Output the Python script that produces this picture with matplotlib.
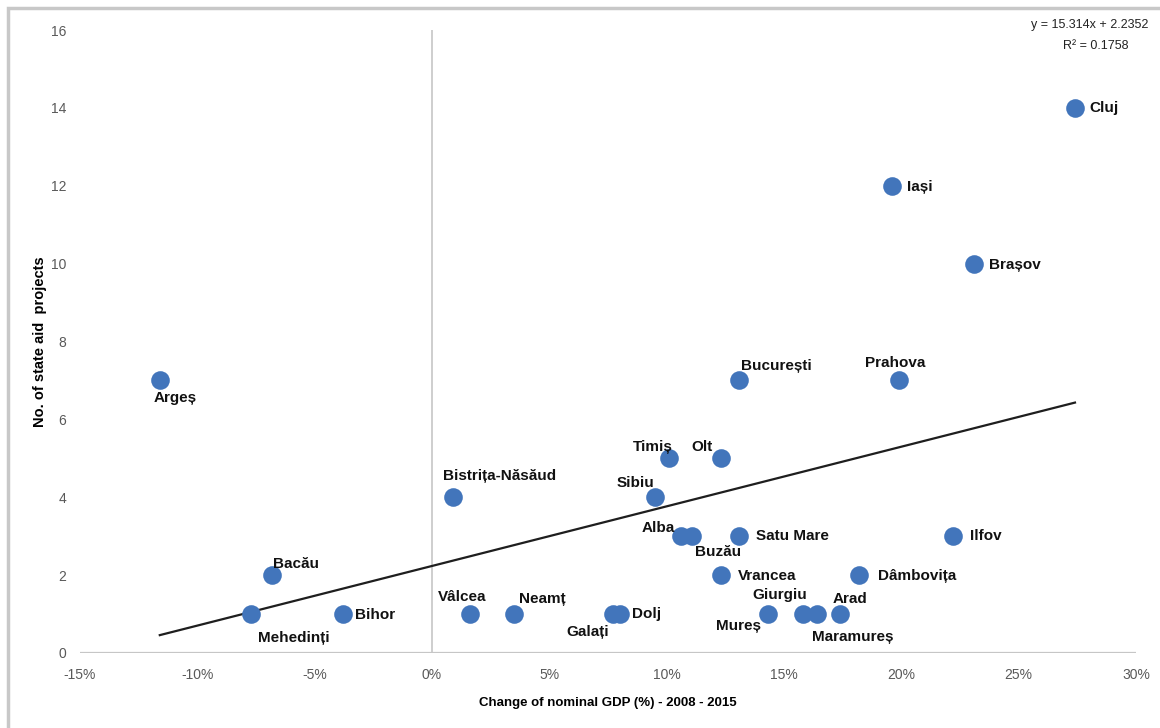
import numpy as np
import matplotlib.pyplot as plt
from matplotlib.patches import Rectangle
from matplotlib.ticker import FuncFormatter, MultipleLocator

# Counties: change of nominal GDP 2008-2015 vs. number of state aid projects
counties = ['Argeș', 'Bacău', 'Mehedinți', 'Bihor', 'Bistrița-Năsăud', 'Vâlcea',
            'Neamț', 'Galați', 'Dolj', 'Sibiu', 'Timiș', 'Olt', 'Alba', 'Buzău',
            'Satu Mare', 'Vrancea', 'București', 'Mureș', 'Giurgiu', 'Maramureș',
            'Arad', 'Dâmbovița', 'Prahova', 'Ilfov', 'Brașov', 'Iași', 'Cluj']
gdp_change = [-0.116, -0.068, -0.077, -0.038, 0.009, 0.016,
              0.035, 0.077, 0.080, 0.095, 0.101, 0.123, 0.106, 0.111,
              0.131, 0.123, 0.131, 0.143, 0.158, 0.164,
              0.174, 0.182, 0.199, 0.222, 0.231, 0.196, 0.274]
projects = [7, 2, 1, 1, 4, 1,
            1, 1, 1, 4, 5, 5, 3, 3,
            3, 2, 7, 1, 1, 1,
            1, 2, 7, 3, 10, 12, 14]

# linear trend reported by the regression
slope = 15.314
intercept = 2.2352
r_squared = 0.1758

# label placement (pixel offsets from the marker, x right / y down)
label_offsets = {
    'Argeș': (15, 18), 'Bacău': (24, -11), 'Mehedinți': (43, 24), 'Bihor': (32, 1),
    'Bistrița-Năsăud': (46, -21), 'Vâlcea': (-7, -17), 'Neamț': (28, -15),
    'Galați': (-25, 18), 'Dolj': (27, 0), 'Sibiu': (-19, -14), 'Timiș': (-16, -11),
    'Olt': (-19, -11), 'Alba': (-22, -8), 'Buzău': (26, 16), 'Satu Mare': (53, 0),
    'Vrancea': (47, 1), 'București': (37, -14), 'Mureș': (-29, 12),
    'Giurgiu': (-23, -19), 'Maramureș': (36, 23), 'Arad': (10, -15),
    'Dâmbovița': (58, 1), 'Prahova': (-4, -17), 'Ilfov': (33, 0),
    'Brașov': (41, 1), 'Iași': (28, 1), 'Cluj': (29, 0),
}

plt.rcParams['font.family'] = ['Liberation Sans', 'DejaVu Sans']

W, H = 1160, 728
fig = plt.figure(figsize=(W / 100, H / 100), dpi=100)
ax = fig.add_axes([80 / W, (H - 653) / H, (1136 - 80) / W, (653 - 30) / H])

# outer chart border
fig.patches.append(Rectangle((8 / W, -0.05), 1.2, (H - 8) / H + 0.05,
                             transform=fig.transFigure, fill=False,
                             edgecolor='#c8c8c8', linewidth=2.5))

ax.set_xlim(-0.15, 0.30)
ax.set_ylim(0, 16)
for s in ax.spines.values():
    s.set_visible(False)
ax.axhline(0, color='#c6c6c6', lw=1.6, zorder=1)
ax.axvline(0, color='#c6c6c6', lw=1.2, zorder=1)

ax.xaxis.set_major_locator(MultipleLocator(0.05))
ax.yaxis.set_major_locator(MultipleLocator(2))
ax.xaxis.set_major_formatter(FuncFormatter(lambda v, p: f'{v * 100:.0f}%'))
ax.tick_params(length=0, labelsize=10, labelcolor='#595959')
ax.tick_params(axis='x', pad=11)
ax.tick_params(axis='y', pad=10)

# trend line across the data range
xs = np.array([min(gdp_change), max(gdp_change)])
ax.plot(xs, slope * xs + intercept, color='#1e1e1e', lw=1.6, zorder=2)

ax.scatter(gdp_change, projects, s=180, color='#4275bb', zorder=3, linewidths=0)

for name, x, y in zip(counties, gdp_change, projects):
    dx, dy = label_offsets[name]
    ax.annotate(name, (x, y), xytext=(dx, -dy), textcoords='offset pixels',
                ha='center', va='center', fontsize=11, fontweight='bold',
                color='#111111', zorder=4)

fig.text(1090 / W, 1 - 25 / H, f'y = {slope}x + {intercept}', ha='center',
         va='center', fontsize=9, color='#222222')
fig.text(1096 / W, 1 - 46 / H, f'R² = {r_squared}', ha='center',
         va='center', fontsize=9, color='#222222')

fig.text(608 / W, 1 - 703 / H, 'Change of nominal GDP (%) - 2008 - 2015',
         ha='center', va='center', fontsize=9.5, fontweight='bold')
fig.text(40 / W, 1 - 342 / H, 'No. of state aid  projects', rotation=90,
         ha='center', va='center', fontsize=10.5, fontweight='bold')

fig.savefig('out.png', dpi=100)
